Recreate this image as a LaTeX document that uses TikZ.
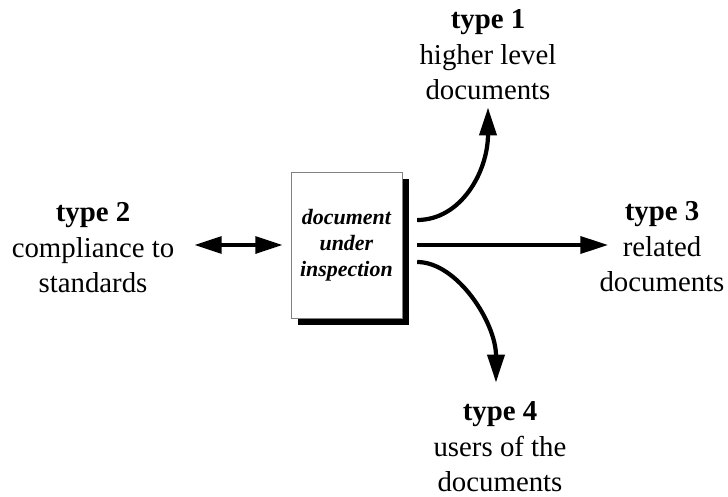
\documentclass[tikz,border=0pt]{standalone}
\usepackage{fontspec}
\setmainfont{Liberation Serif}
\usetikzlibrary{arrows.meta,shadows}

\tikzset{
  lbl/.style={align=center, inner sep=0pt, font=\fontsize{20.5}{25.2}\selectfont},
  arr/.style={line width=3pt, -{Triangle[length=0.7cm,width=0.42cm]}},
  biarr/.style={line width=2.6pt, {Triangle[length=0.68cm,width=0.42cm]}-{Triangle[length=0.68cm,width=0.42cm]}}
}

\begin{document}
\begin{tikzpicture}
      \useasboundingbox (0,0) rectangle (18.2,12.4);
      % the document and its shadow
      \node (doc) [draw=gray, fill=white, minimum width=2.775cm, minimum height=3.65cm,
        align=center, font=\fontsize{15.6}{18.6}\selectfont\bfseries\itshape,
        drop shadow={shadow xshift=0.18cm, shadow yshift=-0.18cm, fill=black, opacity=1}]
        at (8.66,6.275) {document\\under\\inspection};
      % the four kinds of check
      \node (t1) [lbl] at (12.2,11.025) {\textbf{type 1}\\higher level\\documents};
      \node (t2) [lbl] at (2.325,6.21) {\textbf{type 2}\\compliance to\\standards};
      \node (t3) [lbl] at (16.55,6.225) {\textbf{type 3}\\related\\documents};
      \node (t4) [lbl] at (12.5,1.225) {\textbf{type 4}\\users of the\\documents};
      % connectors
      \draw[biarr] ([xshift=0.5cm]t2.east |- doc.west) -- ([xshift=-0.2cm]doc.west);
      \draw[arr] ([xshift=0.375cm]doc.east) -- ([xshift=0.225cm]t3.west |- doc.east);
      \draw[arr] ([shift={(0.375,0.625)}]doc.east) .. controls +(1.1,0) and +(0,-1.6) .. ([yshift=-0.175cm]t1.south);
      \draw[arr] ([shift={(0.375,-0.425)}]doc.east) .. controls +(1.0,0) and +(0,1.5) .. ([shift={(-0.1,0.475)}]t4.north);
\end{tikzpicture}
\end{document}
